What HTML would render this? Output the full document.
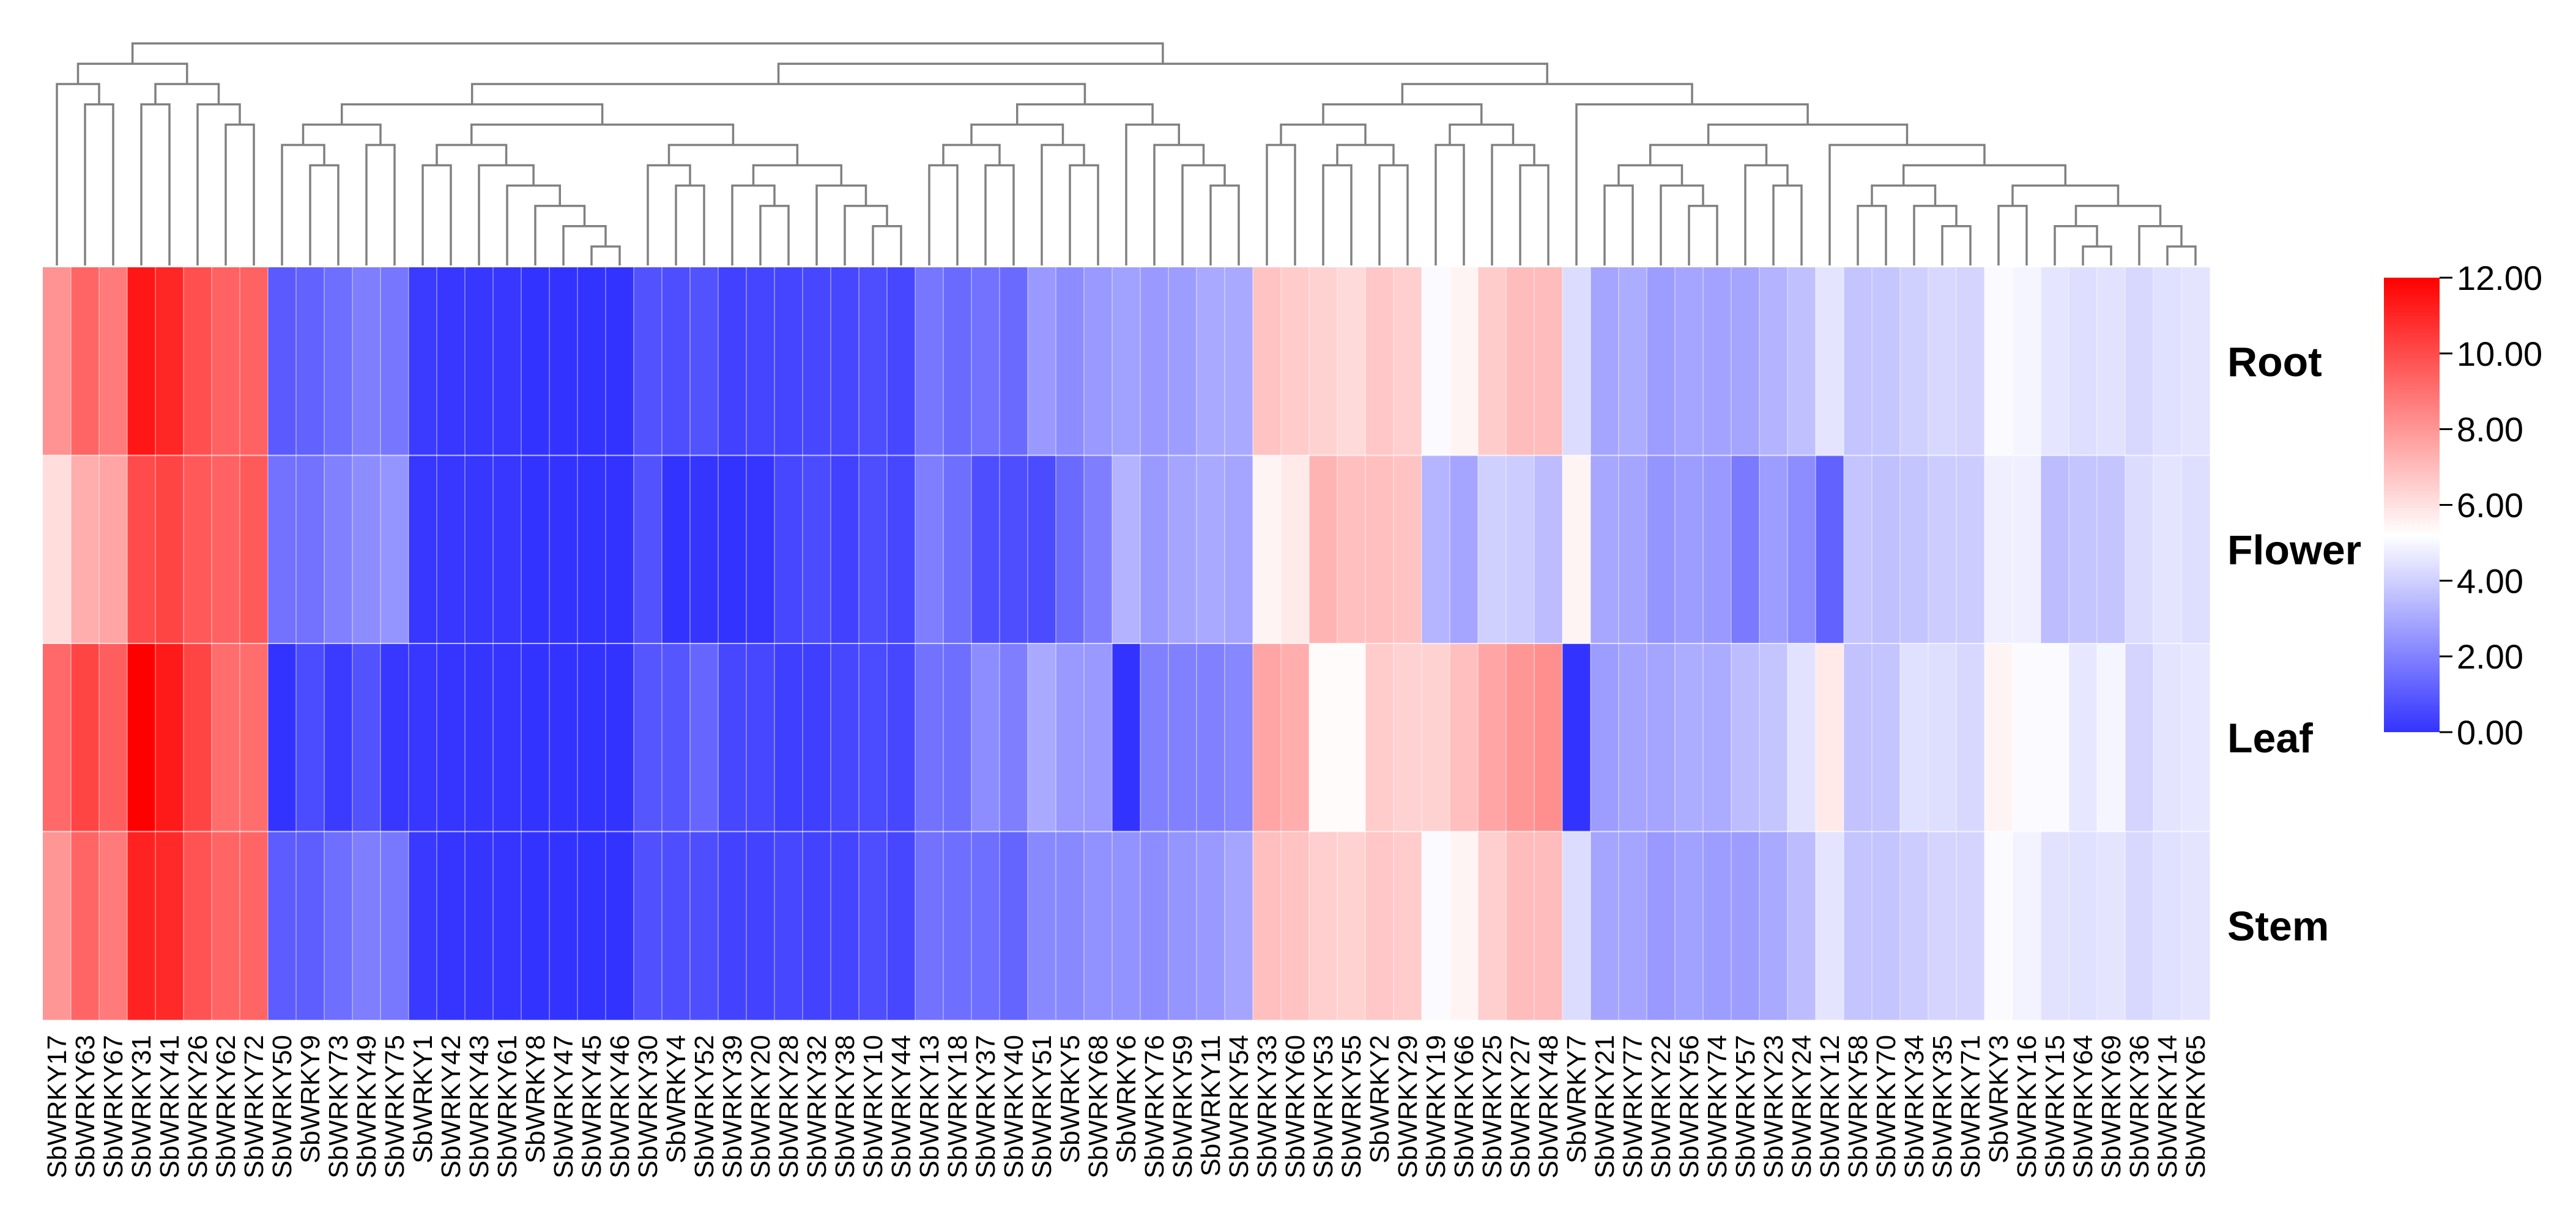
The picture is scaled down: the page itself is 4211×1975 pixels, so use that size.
<!DOCTYPE html>
<html><head><meta charset="utf-8"><style>
html,body{margin:0;padding:0;background:#fff;}
svg{display:block;}
text{font-family:"Liberation Sans",Arial,sans-serif;}
</style></head><body>
<svg id="chart" width="4211" height="1975" viewBox="0 0 4211 1975" xmlns="http://www.w3.org/2000/svg">
<defs>
<linearGradient id="lg" x1="0" y1="1" x2="0" y2="0">
<stop offset="0" stop-color="#3333ff"/>
<stop offset="0.433" stop-color="#ffffff"/>
<stop offset="1" stop-color="#ff0000"/>
</linearGradient>
</defs>
<g id="dendro"></g>
<g id="cells"></g>
<g id="xlabels"></g>
<g id="ylabels"></g>
<g id="legend">
<rect x="3897" y="454" width="91" height="743" fill="url(#lg)"/>
</g>
</svg>
<script>
const genes=["SbWRKY17","SbWRKY63","SbWRKY67","SbWRKY31","SbWRKY41","SbWRKY26","SbWRKY62","SbWRKY72","SbWRKY50","SbWRKY9","SbWRKY73","SbWRKY49","SbWRKY75","SbWRKY1","SbWRKY42","SbWRKY43","SbWRKY61","SbWRKY8","SbWRKY47","SbWRKY45","SbWRKY46","SbWRKY30","SbWRKY4","SbWRKY52","SbWRKY39","SbWRKY20","SbWRKY28","SbWRKY32","SbWRKY38","SbWRKY10","SbWRKY44","SbWRKY13","SbWRKY18","SbWRKY37","SbWRKY40","SbWRKY51","SbWRKY5","SbWRKY68","SbWRKY6","SbWRKY76","SbWRKY59","SbWRKY11","SbWRKY54","SbWRKY33","SbWRKY60","SbWRKY53","SbWRKY55","SbWRKY2","SbWRKY29","SbWRKY19","SbWRKY66","SbWRKY25","SbWRKY27","SbWRKY48","SbWRKY7","SbWRKY21","SbWRKY77","SbWRKY22","SbWRKY56","SbWRKY74","SbWRKY57","SbWRKY23","SbWRKY24","SbWRKY12","SbWRKY58","SbWRKY70","SbWRKY34","SbWRKY35","SbWRKY71","SbWRKY3","SbWRKY16","SbWRKY15","SbWRKY64","SbWRKY69","SbWRKY36","SbWRKY14","SbWRKY65"];
const tissues=["Root","Flower","Leaf","Stem"];
const rootVals=[8.1,9.3,8.75,11.4,11.0,9.9,9.4,9.4,1.0,1.2,1.5,1.9,1.7,0.2,0.1,0.1,0.1,0,0,0,0,0.8,0.7,0.8,0.35,0.45,0.45,0.5,0.5,0.7,0.5,1.7,1.4,1.6,1.4,2.6,2.3,2.6,2.8,2.6,2.7,3.0,3.0,6.8,6.6,6.4,6.2,6.7,6.5,5.1,5.5,6.55,7.0,7.0,4.3,2.9,3.1,2.7,2.9,2.85,2.9,3.25,3.6,4.5,3.7,3.75,4.0,4.2,4.1,5.1,4.95,4.55,4.35,4.45,4.2,4.4,4.5];
const flowerVals=[6.1,7.4,7.6,10.0,10.2,9.6,9.4,9.6,1.6,1.6,2.0,2.3,2.5,0.1,0.1,0.1,0.1,0,0,0,0,0.8,0.0,0.05,0,0.05,0.5,0.6,0.35,0.7,0.5,1.9,1.5,0.7,0.7,0.6,1.4,1.9,3.25,2.6,2.9,3.0,2.9,5.5,5.8,7.2,6.9,6.9,6.8,3.3,2.9,4.0,3.9,3.5,5.5,2.95,2.9,2.5,2.7,2.6,1.8,2.7,2.3,1.2,3.7,3.6,3.7,3.9,3.9,4.8,4.8,3.5,3.7,3.7,4.3,4.5,4.35];
const leafVals=[9.2,10.2,9.5,12.0,11.3,10.2,9.1,9.1,0.0,0.6,0.2,0.8,0.1,0.1,0.05,0.05,0.05,0,0,0,0,0.9,0.9,1.3,0.5,0.5,0.3,0.3,0.5,0.6,0.5,1.6,1.5,2.3,1.9,3.0,2.6,2.6,0.0,2.0,2.0,2.0,2.15,7.6,7.4,5.3,5.3,6.6,6.4,6.4,6.9,7.6,8.0,8.2,0.0,2.7,2.9,2.9,3.1,3.05,3.5,3.7,4.45,5.8,3.65,3.7,4.4,4.35,4.2,5.5,5.1,5.1,4.6,4.95,4.1,4.5,4.6];
const stemVals=[8.0,9.3,8.75,11.1,10.9,9.8,9.3,9.3,1.05,1.1,1.5,1.9,1.75,0.15,0.05,0.05,0.05,0,0,0,0,0.75,0.7,0.7,0.4,0.4,0.5,0.4,0.45,0.7,0.5,1.6,1.5,1.5,1.25,2.2,2.2,2.4,2.45,2.3,2.5,2.6,2.9,6.9,6.8,6.5,6.4,6.7,6.6,5.1,5.5,6.5,7.0,7.0,4.3,2.9,2.9,2.6,2.8,2.7,2.7,3.0,3.5,4.5,3.7,3.7,3.9,4.1,4.1,5.1,4.9,4.45,4.4,4.5,4.2,4.4,4.5];
const legendTicks=[0,2,4,6,8,10,12];
const tree=[[[0,[1,2,3],2],[[3,4,3],[5,[6,7,4],3],2],1],
 [[[[[8,[9,10,6],5],[11,12,5],4],
    [[[13,14,6],[15,[16,[17,[18,[19,20,10],9],8],7],6],5],
     [[21,[22,23,7],6],[[24,[25,26,8],7],[27,[28,[29,30,9],8],7],6],5],4],3],
   [[[[31,32,6],[33,34,6],5],[35,[36,37,6],5],4],[38,[39,[40,[41,42,7],6],5],4],3],2],
  [[[[43,44,5],[[45,46,6],[47,48,6],5],4],[[49,50,5],[51,[52,53,6],5],4],3],
   [54,[[[[55,56,7],[57,[58,59,8],7],6],[60,[61,62,7],6],5],
        [63,[[[64,65,8],[66,[67,68,9],8],7],[[69,70,8],[[71,[72,73,10],9],[74,[75,76,10],9],8],7],6],5],4],3],2],1],0];

const NS="http://www.w3.org/2000/svg";
const X0=70,CW=46.0,Y0=437,RH=307.5;
const xPos=i=>X0+CW*i;
const xC=i=>X0+CW*(i+0.5);
const yRow=r=>Y0+RH*r;
const yLvl=L=>71+33.2*L;
const LEAFY=434;
const VMID=5.2,VMAX=12;
function color(v){
  let r,g,b;
  if(v<=VMID){const f=Math.max(0,v)/VMID;r=51+204*f;g=51+204*f;b=255;}
  else{const f=Math.min(1,(v-VMID)/(VMAX-VMID));r=255;g=255*(1-f);b=255*(1-f);}
  return `rgb(${Math.round(r)},${Math.round(g)},${Math.round(b)})`;
}
function mk(tag,attrs,parent){const e=document.createElementNS(NS,tag);for(const k in attrs)e.setAttribute(k,attrs[k]);parent.appendChild(e);return e;}
const cells=document.getElementById('cells');
const rows=[rootVals,flowerVals,leafVals,stemVals];
rows.forEach((vals,r)=>{
  vals.forEach((v,i)=>{
    const el=mk('rect',{x:xPos(i),y:yRow(r),width:CW+0.5,height:RH+0.5,fill:color(v)},cells);
    
    
  });
});
// grid lines
for(let i=1;i<genes.length;i++){
  const l=mk('line',{x1:xPos(i),x2:xPos(i),y1:Y0,y2:yRow(4),stroke:'#fff','stroke-width':1.5,'stroke-opacity':0.45},cells);
  
  
}
for(let r=1;r<4;r++){
  const l=mk('line',{x1:X0,x2:xPos(genes.length),y1:yRow(r),y2:yRow(r),stroke:'#fff','stroke-width':2,'stroke-opacity':0.7},cells);
  
  
}
// dendrogram
const dg=document.getElementById('dendro');
function draw(n){
  if(typeof n==='number') return {x:xC(n),y:LEAFY};
  const a=draw(n[0]),b=draw(n[1]),y=yLvl(n[2]);
  const p=mk('path',{d:`M${a.x},${a.y}V${y}H${b.x}V${b.y}`,fill:'none',stroke:'#808080','stroke-width':3.5},dg);
  
  
  return {x:(a.x+b.x)/2,y:y};
}
draw(tree);
// x labels
const xl=document.getElementById('xlabels');
genes.forEach((g,i)=>{
  const t=mk('text',{x:0,y:0,transform:`translate(${xC(i)+15},1692) rotate(-90)`,'text-anchor':'end','font-size':44,fill:'#000'},xl);
  t.textContent=g;
  
  
});
// row labels
const yl=document.getElementById('ylabels');
tissues.forEach((tn,r)=>{
  const t=mk('text',{x:3641,y:yRow(r)+RH/2+24,'font-size':68,'font-weight':'bold',fill:'#000'},yl);
  t.textContent=tn;
  
  
});
// legend ticks
const lg=document.getElementById('legend');
const ly=v=>1197-(v/12)*743;
legendTicks.forEach(v=>{
  const l=mk('line',{x1:3988,x2:4009,y1:ly(v),y2:ly(v),stroke:'#000','stroke-width':3},lg);
  
  
  const t=mk('text',{x:4016,y:ly(v)+20,'font-size':56,fill:'#000'},lg);
  t.textContent=v.toFixed(2);
  
  
});
</script>
</body></html>
